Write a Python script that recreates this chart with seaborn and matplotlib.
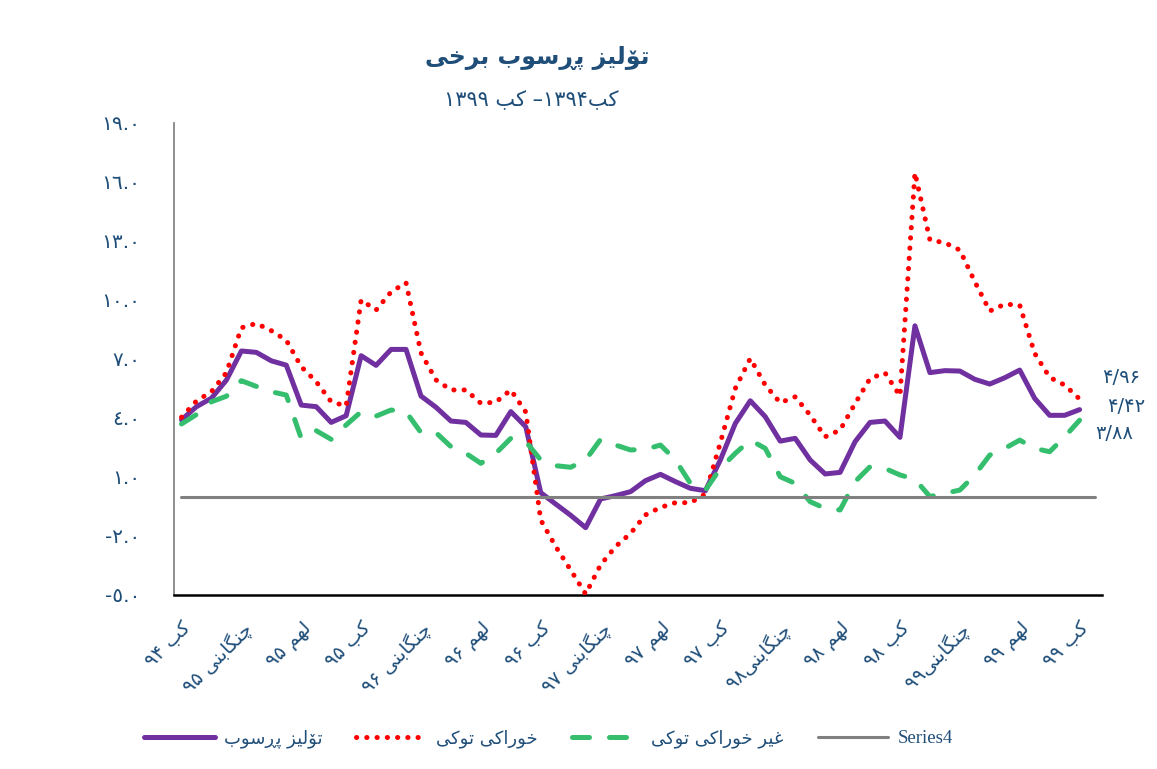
import re
import numpy as np
import pandas as pd
import matplotlib
matplotlib.use('Agg')
import matplotlib.pyplot as plt
from matplotlib import font_manager
from matplotlib.ft2font import FT2Font
import seaborn as sns

# datos (mensual, کب۱۳۹۴ .. کب۱۳۹۹)
meses = list(range(61))

tolid = [3.9, 4.57, 5.0, 5.92, 7.4, 7.33, 6.9, 6.68, 4.65, 4.57, 3.77, 4.11, 7.16, 6.67, 7.48, 7.48,
         5.11, 4.54, 3.84, 3.77, 3.13, 3.11, 4.32, 3.55, 0.2, -0.38, -0.95, -1.58, -0.12, 0.05, 0.25, 0.81,
         1.13, 0.76, 0.42, 0.3, 1.86, 3.72, 4.87, 4.06, 2.82, 2.96, 1.86, 1.15, 1.23, 2.79, 3.77, 3.84,
         3.01, 8.68, 6.3, 6.4, 6.38, 5.96, 5.72, 6.04, 6.43, 4.99, 4.13, 4.13, 4.42]

khoraki = [4.03, 4.86, 5.33, 6.3, 8.58, 8.8, 8.43, 7.95, 6.6, 5.84, 4.82, 4.6, 9.99, 9.48, 10.4, 10.87,
           7.3, 5.93, 5.42, 5.42, 4.74, 4.8, 5.42, 4.3, -1.19, -2.54, -3.73, -4.95, -3.47, -2.54, -1.87, -0.93,
           -0.55, -0.31, -0.31, 0.13, 2.74, 5.5, 7.02, 5.67, 4.77, 5.07, 4.14, 3.04, 3.38, 4.73, 6.0, 6.29,
           5.12, 16.46, 13.04, 12.9, 12.53, 10.92, 9.43, 9.78, 9.73, 7.28, 6.06, 5.67, 4.96]

gheir = [3.69, 4.17, 4.82, 5.1, 5.89, 5.6, 5.33, 5.16, 2.96, 3.35, 2.91, 3.64, 4.31, 4.09, 4.4, 4.31,
         3.25, 3.25, 2.54, 2.2, 1.69, 2.2, 2.96, 2.8, 1.86, 1.57, 1.49, 1.86, 2.91, 2.62, 2.37, 2.4,
         2.62, 1.86, 0.67, 0.33, 1.43, 2.2, 2.87, 2.45, 1.01, 0.67, -0.26, -0.6, -0.68, 0.76, 1.52, 1.43,
         1.1, 0.88, 0.0, 0.17, 0.33, 1.1, 2.11, 2.45, 2.87, 2.45, 2.28, 3.04, 3.88]

meses4 = list(range(62))
series4 = [0.0] * 62

etiquetas_x = ['کب ۹۴', 'چنگابنی ۹۵', 'لهم ۹۵', 'کب ۹۵', 'چنگابنی ۹۶', 'لهم ۹۶', 'کب ۹۶',
               'چنگابنی ۹۷', 'لهم ۹۷', 'کب ۹۷', 'چنگابنی۹۸', 'لهم ۹۸', 'کب ۹۸', 'چنگابنی۹۹',
               'لهم ۹۹', 'کب ۹۹']
pos_etiquetas = list(range(0, 61, 4))

yticks = [-5, -2, 1, 4, 7, 10, 13, 16, 19]
etiquetas_y = ['-٥.٠', '-٢.٠', '١.٠', '٤.٠', '٧.٠', '١٠.٠', '١٣.٠', '١٦.٠', '١٩.٠']

titulo = 'تۆلیز پڕسوب برخی'
subtitulo = 'کب۱۳۹۴– کب ۱۳۹۹'
nombres = ['تۆلیز پڕسوب', 'خوراکی توکی', 'غیر خوراکی توکی', 'Series4']
finales = ['۴/۹۶', '۴/۴۲', '۳/۸۸']

# --- formas arabes (matplotlib no hace shaping ni RTL) ---
FORMAS = {
    'ب': 'ﺏﺐﺑﺒ', 'ت': 'ﺕﺖﺗﺘ', 'خ': 'ﺥﺦﺧﺨ', 'س': 'ﺱﺲﺳﺴ', 'غ': 'ﻍﻎﻏﻐ',
    'ل': 'ﻝﻞﻟﻠ', 'م': 'ﻡﻢﻣﻤ', 'ن': 'ﻥﻦﻧﻨ', 'ه': 'ﻩﻪﻫﻬ',
    'پ': '\uFB56\uFB57\uFB58\uFB59', 'چ': '\uFB7A\uFB7B\uFB7C\uFB7D',
    'ک': '\uFB8E\uFB8F\uFB90\uFB91', 'گ': '\uFB92\uFB93\uFB94\uFB95',
    'ی': '\uFBFC\uFBFD\uFBFE\uFBFF',
    'ا': 'ﺍﺎ', 'ر': 'ﺭﺮ', 'ز': 'ﺯﺰ', 'و': 'ﻭﻮ', 'ۆ': '\uFBD9\uFBDA', 'ڕ': 'ڕڕ',
}
DOBLES = {c for c, f in FORMAS.items() if len(f) == 4}
DIGITOS = '0123456789۰۱۲۳۴۵۶۷۸۹٠١٢٣٤٥٦٧٨٩'

_ft = FT2Font(font_manager.findfont('DejaVu Sans'))


def _glifo(c, base):
    return c if _ft.get_char_index(ord(c)) else base


def shape(s):
    out = []
    for i, c in enumerate(s):
        if c not in FORMAS:
            out.append(c)
            continue
        prev = i > 0 and s[i - 1] in DOBLES
        nxt = c in DOBLES and i + 1 < len(s) and s[i + 1] in FORMAS
        if len(FORMAS[c]) == 4:
            k = 3 if (prev and nxt) else 1 if prev else 2 if nxt else 0
        else:
            k = 1 if prev else 0
        out.append(_glifo(FORMAS[c][k], c))
    return ''.join(out)


def visual(s):
    partes = re.findall(r'[0-9۰-۹٠-٩]+|[^0-9۰-۹٠-٩]+', s)
    res = []
    for p in reversed(partes):
        res.append(p if p[0] in DIGITOS else shape(p)[::-1])
    return ''.join(res)


sns.set_style('white')
plt.rcParams['font.family'] = ['DejaVu Sans']
azul = '#1F4E79'

fig = plt.figure(figsize=(11.57, 7.69), dpi=100)
ax = fig.add_axes([0.1504, 0.2263, 0.8021, 0.6141])

sns.lineplot(x=meses, y=tolid, ax=ax, color='#7030A0', linewidth=3.6,
             solid_joinstyle='round', label=visual(nombres[0]), zorder=3)
sns.lineplot(x=meses, y=khoraki, ax=ax, color='#FF0000', linewidth=3.6,
             linestyle=(0, (0.05, 2.0)), dash_capstyle='round', label=visual(nombres[1]), zorder=4)
sns.lineplot(x=meses, y=gheir, ax=ax, color='#35BE6E', linewidth=3.6,
             linestyle=(0, (3.4, 4.0)), dash_capstyle='round', label=visual(nombres[2]), zorder=5)
sns.lineplot(x=meses4, y=series4, ax=ax, color='#808080', linewidth=2.2,
             label=nombres[3], zorder=6)

handles, labels = ax.get_legend_handles_labels()
if ax.get_legend() is not None:
    ax.get_legend().remove()

ax.set_xlim(-0.5, 61.5)
ax.set_ylim(-5, 19)

ax.set_yticks(yticks)
ax.set_yticklabels(etiquetas_y, fontsize=14.5, color=azul)
ax.tick_params(axis='y', length=7, width=1.3, color='#868686', pad=17)

ax.set_xticks(pos_etiquetas)
ax.set_xticklabels([visual(t) for t in etiquetas_x], rotation=45, ha='right',
                   rotation_mode='anchor', fontsize=14, color=azul)
ax.set_xticks(np.arange(-0.5, 62, 2), minor=True)
ax.tick_params(axis='x', which='major', length=0, pad=17)
ax.tick_params(axis='x', which='minor', length=6, width=1.3, color='black')
ax.set_xlabel('')
ax.set_ylabel('')

for lado in ['top', 'right']:
    ax.spines[lado].set_visible(False)
ax.spines['left'].set_color('#868686')
ax.spines['left'].set_linewidth(1.3)
ax.spines['bottom'].set_color('black')
ax.spines['bottom'].set_linewidth(1.8)

# etiquetas de los ultimos valores
ax.annotate(finales[0], xy=(60, khoraki[-1]), xytext=(42, 21), textcoords='offset pixels',
            ha='center', va='center', fontsize=14, color=azul)
ax.annotate(finales[1], xy=(60, tolid[-1]), xytext=(47, 3), textcoords='offset pixels',
            ha='center', va='center', fontsize=14, color=azul)
ax.annotate(finales[2], xy=(60, gheir[-1]), xytext=(35, -13), textcoords='offset pixels',
            ha='center', va='center', fontsize=14, color=azul)

fig.text(0.464, 0.925, visual(titulo), ha='center', va='center', fontsize=17,
         fontweight='bold', color=azul)
fig.text(0.459, 0.870, visual(subtitulo), ha='center', va='center', fontsize=15, color=azul)

leg = fig.legend(handles, labels, loc='center', bbox_to_anchor=(0.474, 0.04), ncol=4,
                 frameon=False, fontsize=13, handlelength=3.9, columnspacing=1.9,
                 handletextpad=0.5)
for t in leg.get_texts():
    t.set_color(azul)
leg.get_texts()[3].set_fontfamily('Liberation Serif')
leg.get_texts()[3].set_fontsize(13.5)

fig.savefig('out.png', dpi=100)
